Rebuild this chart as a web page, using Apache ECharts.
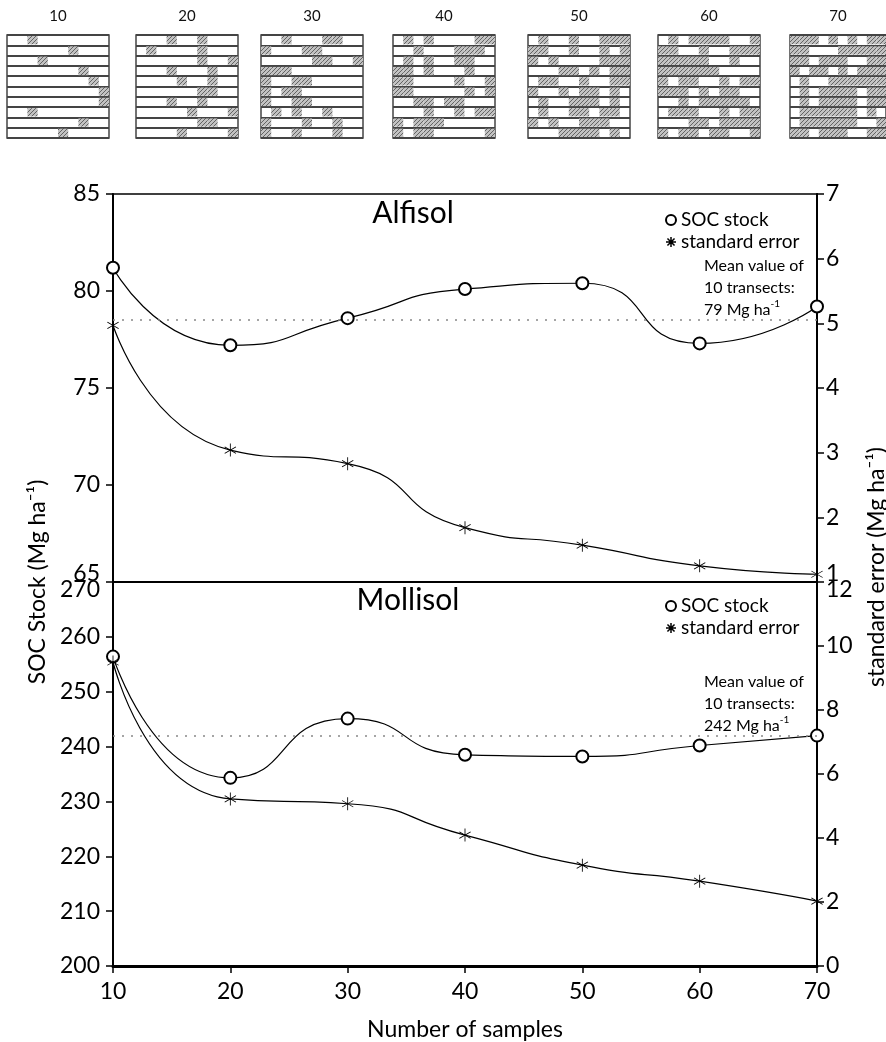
<!DOCTYPE html>
<html>
<head>
<meta charset="utf-8">
<title>SOC stock vs number of samples</title>
<script src="https://cdn.jsdelivr.net/npm/echarts@6/dist/echarts.min.js"></script>
<style>
html, body { margin: 0; padding: 0; background: #fff; }
#main { width: 886px; height: 1042px; }
</style>
</head>
<body>
<div id="main"></div>
<script>
// data
var samples = [10, 20, 30, 40, 50, 60, 70];
var alfisolSoc = [81.2, 77.2, 78.6, 80.1, 80.4, 77.3, 79.2];
var alfisolSe = [4.97, 3.04, 2.83, 1.84, 1.57, 1.25, 1.12];
var alfisolMean = 78.5;
var mollisolSoc = [256.4, 234.3, 245.1, 238.5, 238.2, 240.2, 242.0];
var mollisolSe = [9.5, 5.22, 5.07, 4.09, 3.15, 2.65, 2.03];
var mollisolMean = 242;

// sampling layouts: hatched positions (column index) in each of the 10 transects
var layoutLabels = ['10', '20', '30', '40', '50', '60', '70'];
var layoutCells = [
	[[2], [6], [3], [7], [8], [9], [9], [2], [7], [5]],
	[[3, 6], [1, 6], [6, 9], [3, 7], [4, 7], [6, 7], [3, 6], [5, 9], [6, 7], [4, 9]],
	[[2, 6, 7], [0, 4, 5], [5, 6, 9], [0, 1, 2], [0, 3, 4], [0, 2, 3], [0, 3, 4], [1, 3, 6], [0, 4, 7], [0, 3, 7]],
	[[1, 3, 8, 9], [2, 6, 7, 8], [1, 3, 6, 7], [0, 1, 3, 7], [0, 1, 6, 9], [0, 1, 7, 9], [2, 3, 5, 6], [3, 6, 8, 9], [0, 2, 3, 4], [0, 2, 3, 9]],
	[[1, 4, 7, 8, 9], [0, 1, 4, 7, 9], [0, 2, 7, 8, 9], [3, 4, 6, 8, 9], [1, 2, 5, 8, 9], [0, 3, 5, 6, 8], [1, 4, 5, 6, 8], [1, 4, 5, 7, 8], [0, 2, 5, 6, 7], [3, 4, 5, 6, 8]],
	[[1, 3, 4, 5, 6, 9], [0, 1, 4, 7, 8, 9], [0, 1, 2, 3, 4, 7], [0, 1, 2, 3, 4, 5], [0, 2, 3, 6, 8, 9], [0, 1, 2, 4, 6, 7], [2, 4, 5, 6, 7, 8], [1, 2, 3, 6, 8, 9], [3, 4, 6, 7, 8, 9], [0, 2, 3, 5, 6, 9]],
	[[0, 1, 2, 4, 6, 8, 9], [0, 1, 5, 6, 7, 8, 9], [0, 1, 3, 4, 5, 8, 9], [0, 2, 3, 5, 7, 8, 9], [1, 4, 5, 6, 7, 8, 9], [1, 3, 4, 5, 6, 8, 9], [1, 3, 4, 5, 6, 8, 9], [1, 2, 3, 4, 5, 6, 8], [1, 2, 3, 4, 5, 6, 9], [0, 1, 3, 4, 5, 8, 9]]
];

var fontFam = 'Lato, "Open Sans", sans-serif';

function makeHatch() {
	var c = document.createElement('canvas');
	c.width = 4;
	c.height = 4;
	var g = c.getContext('2d');
	g.fillStyle = '#c2c2c2';
	g.fillRect(0, 0, 4, 4);
	g.strokeStyle = '#646464';
	g.lineWidth = 1;
	g.beginPath();
	g.moveTo(-1, 5);
	g.lineTo(5, -1);
	g.stroke();
	return c;
}
var hatchFill = { image: makeHatch(), repeat: 'repeat' };

function asteriskPath(arms, w) {
	var d = '';
	var R = 10, h = w / 2;
	for (var k = 0; k < arms / 2; k++) {
		var a = Math.PI / 2 + k * 2 * Math.PI / arms;
		var cx = Math.cos(a), sy = Math.sin(a);
		var nx = -sy, ny = cx;
		var pts = [
			[R * cx + h * nx, R * sy + h * ny],
			[-R * cx + h * nx, -R * sy + h * ny],
			[-R * cx - h * nx, -R * sy - h * ny],
			[R * cx - h * nx, R * sy - h * ny]
		];
		d += 'M' + pts.map(function(p) {
			return (p[0] + 10).toFixed(2) + ' ' + (p[1] + 10).toFixed(2);
		}).join('L') + 'Z';
	}
	return 'path://' + d;
}
var starMarker = asteriskPath(6, 1.3);
var starLegend = asteriskPath(8, 3);

var chart = echarts.init(document.getElementById('main'));

var grids = [], xAxes = [], yAxes = [], series = [];
var smallLeft = [7, 136, 261, 393, 528, 658, 790];

layoutLabels.forEach(function(label, i) {
	grids.push({
		left: smallLeft[i], top: 35, width: 102, height: 103,
		show: true, borderColor: '#444', borderWidth: 1.5
	});
	xAxes.push({
		gridIndex: i, type: 'value', min: 0, max: 10, interval: 1, position: 'top',
		name: label, nameLocation: 'middle', nameGap: 11,
		nameTextStyle: { fontFamily: fontFam, fontSize: 15, color: '#111' },
		axisLine: { show: false }, axisTick: { show: false },
		axisLabel: { show: false }, splitLine: { show: false }
	});
	yAxes.push({
		gridIndex: i, type: 'value', min: 0, max: 10, interval: 1, inverse: true,
		axisLine: { show: false }, axisTick: { show: false }, axisLabel: { show: false },
		splitLine: { show: true, lineStyle: { color: '#444', width: 2 } }
	});
	var cells = [];
	layoutCells[i].forEach(function(cols, row) {
		cols.forEach(function(c) {
			cells.push([c, row]);
		});
	});
	series.push({
		type: 'custom', xAxisIndex: i, yAxisIndex: i, silent: true, data: cells,
		renderItem: function(params, api) {
			var p = api.coord([api.value(0), api.value(1)]);
			var s = api.size([1, 1]);
			return {
				type: 'rect',
				shape: { x: p[0], y: p[1] + 1, width: s[0], height: s[1] - 2 },
				style: { fill: hatchFill, stroke: null }
			};
		}
	});
});

// main panels
var mainLeft = 113, mainRight = 69;
grids.push({ left: mainLeft, right: mainRight, top: 194, height: 388, show: true, borderColor: '#000', borderWidth: 1.5 });
grids.push({ left: mainLeft, right: mainRight, top: 582, height: 388 });

var tickLabel = { fontFamily: fontFam, fontSize: 23, color: '#000' };
var richEdge = {
	lo: { fontFamily: fontFam, fontSize: 23, color: '#000', padding: [0, 0, 16, 0] },
	hi: { fontFamily: fontFam, fontSize: 23, color: '#000', padding: [16, 0, 0, 0] }
};

xAxes.push({
	gridIndex: 7, type: 'value', min: 10, max: 70, interval: 10,
	axisLine: { show: true, lineStyle: { color: '#000', width: 2 } },
	axisTick: { show: false }, axisLabel: { show: false }, splitLine: { show: false }
});
xAxes.push({
	gridIndex: 8, type: 'value', min: 10, max: 70, interval: 10,
	name: 'Number of samples', nameLocation: 'middle', nameGap: 52,
	nameTextStyle: { fontFamily: fontFam, fontSize: 23, color: '#000' },
	axisLine: { show: true, lineStyle: { color: '#000', width: 3 } },
	axisTick: { show: true, inside: false, length: 7, lineStyle: { color: '#000', width: 1.5 } },
	axisLabel: Object.assign({ margin: 14 }, tickLabel),
	splitLine: { show: false }
});

function yAx(grid, pos, min, max, step, edgeVal, edgeStyle, margin) {
	return {
		gridIndex: grid, type: 'value', position: pos, min: min, max: max, interval: step,
		axisLine: { show: true, onZero: false, lineStyle: { color: '#000', width: 2 } },
		axisTick: { show: true, inside: false, length: 7, lineStyle: { color: '#000', width: 1.5 } },
		axisLabel: Object.assign({
			margin: margin,
			rich: richEdge,
			formatter: function(v) {
				return v === edgeVal ? '{' + edgeStyle + '|' + v + '}' : String(v);
			}
		}, tickLabel),
		splitLine: { show: false }
	};
}
yAxes.push(yAx(7, 'left', 65, 85, 5, 65, 'lo', 13));
yAxes.push(yAx(7, 'right', 1, 7, 1, 1, 'lo', 9));
yAxes.push(yAx(8, 'left', 200, 270, 10, 270, 'hi', 13));
yAxes.push(yAx(8, 'right', 0, 12, 2, 12, 'hi', 9));

function pairs(vals) {
	return samples.map(function(x, i) { return [x, vals[i]]; });
}
function meanLine(v) {
	return {
		silent: true, symbol: 'none', label: { show: false },
		lineStyle: { color: '#888', type: [2, 7], width: 1.5 },
		data: [{ yAxis: v }]
	};
}
function socSeries(xi, yi, vals, mean) {
	return {
		name: 'SOC stock', type: 'line', xAxisIndex: xi, yAxisIndex: yi,
		data: pairs(vals), smooth: 0.6, z: 3,
		symbol: 'emptyCircle', symbolSize: 12,
		lineStyle: { color: '#000', width: 1.2 },
		itemStyle: { color: '#000', borderWidth: 1 },
		markLine: meanLine(mean)
	};
}
function seSeries(xi, yi, vals) {
	return {
		name: 'standard error', type: 'line', xAxisIndex: xi, yAxisIndex: yi,
		data: pairs(vals), smooth: 0.6, z: 3,
		symbol: starMarker, symbolSize: 13, symbolKeepAspect: true,
		lineStyle: { color: '#000', width: 1.2 },
		itemStyle: { color: '#000' }
	};
}
series.push(socSeries(7, 7, alfisolSoc, alfisolMean));
series.push(seSeries(7, 8, alfisolSe));
series.push(socSeries(8, 9, mollisolSoc, mollisolMean));
series.push(seSeries(8, 10, mollisolSe));

function legendAt(top) {
	return {
		orient: 'vertical', left: 660, top: top, itemWidth: 10, itemHeight: 10, itemGap: 2,
		selectedMode: false,
		textStyle: { fontFamily: fontFam, fontSize: 19, color: '#000', lineHeight: 20 },
		data: [
			{ name: 'SOC stock', icon: 'emptyCircle' },
			{ name: 'standard error', icon: starLegend }
		]
	};
}

function note(top, value) {
	return {
		type: 'text', left: 704, top: top, silent: true,
		style: {
			text: '{a|Mean value of}\n{a|10 transects:}\n{a|' + value + ' Mg ha}{s|-1}',
			rich: {
				a: { fontFamily: fontFam, fontSize: 16, lineHeight: 22, fill: '#000', color: '#000' },
				s: { fontFamily: fontFam, fontSize: 10, lineHeight: 22, verticalAlign: 'top', fill: '#000', color: '#000', padding: [0, 0, 8, 0] }
			}
		}
	};
}

var option = {
	animation: false,
	backgroundColor: '#fff',
	grid: grids,
	xAxis: xAxes,
	yAxis: yAxes,
	legend: [legendAt(205), legendAt(591)],
	series: series,
	graphic: [
		{ type: 'text', x: 413, y: 213, silent: true,
			style: { text: 'Alfisol', font: '30px ' + fontFam, fill: '#000', textAlign: 'center', textVerticalAlign: 'middle', align: 'center', verticalAlign: 'middle' } },
		{ type: 'text', x: 408, y: 600, silent: true,
			style: { text: 'Mollisol', font: '30px ' + fontFam, fill: '#000', textAlign: 'center', textVerticalAlign: 'middle', align: 'center', verticalAlign: 'middle' } },
		note(258, '79'),
		note(674, '242'),
		{ type: 'text', x: 38, y: 582, rotation: Math.PI / 2, silent: true,
			style: { text: 'SOC Stock (Mg ha⁻¹)', font: '23px ' + fontFam, fill: '#000', textAlign: 'center', textVerticalAlign: 'middle', align: 'center', verticalAlign: 'middle' } },
		{ type: 'text', x: 877, y: 567, rotation: Math.PI / 2, silent: true,
			style: { text: 'standard error (Mg ha⁻¹)', font: '23px ' + fontFam, fill: '#000', textAlign: 'center', textVerticalAlign: 'middle', align: 'center', verticalAlign: 'middle' } }
	]
};

chart.setOption(option);
</script>
</body>
</html>
